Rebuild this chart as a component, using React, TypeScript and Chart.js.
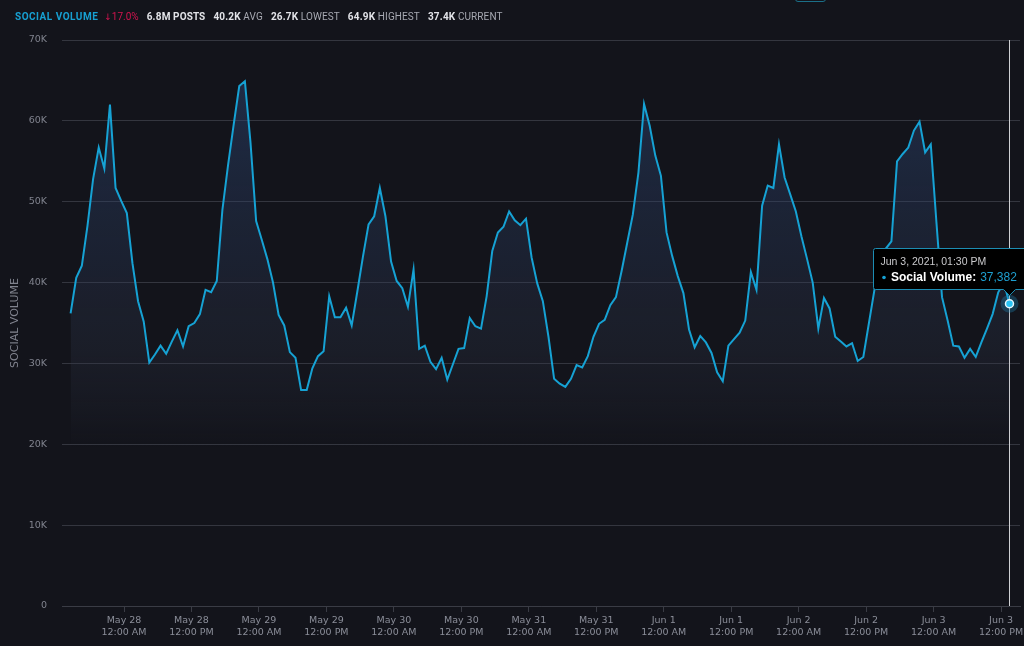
import React, { useEffect, useRef } from "react";
import { Chart, registerables } from "chart.js";

Chart.register(...registerables);

// Hourly samples; first sample is May 27, 2021 02:30 PM (hours relative to May 28 12:00 AM)
const START_HOUR = -9.5;
const SOCIAL_VOLUME = [
  36200, 40600, 42100, 47000, 52800, 56700, 54100, 62000, 51700, 50100,
  48600, 42400, 37700, 35200, 30100, 31100, 32200, 31200, 32700, 34100,
  32100, 34600, 35000, 36100, 39100, 38800, 40200, 49000, 54500, 59500,
  64300, 64900, 57300, 47600, 45300, 42900, 40000, 36000, 34700, 31400,
  30700, 26700, 26700, 29400, 30900, 31500, 38300, 35700, 35700, 36900,
  34700, 38900, 43200, 47200, 48200, 51700, 48200, 42600, 40200, 39300,
  37000, 41600, 31800, 32200, 30200, 29300, 30700, 28000, 29900, 31800,
  31900, 35600, 34600, 34300, 38300, 43900, 46200, 46900, 48800, 47700,
  47100, 47900, 43100, 39900, 37700, 33300, 28100, 27500, 27100, 28100,
  29800, 29500, 30900, 33300, 34900, 35400, 37200, 38200, 41400, 44900,
  48400, 53600, 62100, 59400, 55700, 53200, 46200, 43300, 40800, 38700,
  34200, 32000, 33400, 32600, 31300, 28900, 27800, 32200, 33000, 33800,
  35300, 41300, 39100, 49500, 52000, 51700, 57100, 53000, 50900, 48800,
  45700, 42900, 40000, 34300, 38100, 36800, 33300, 32700, 32100, 32500,
  30300, 30800, 35000, 39200, 43000, 44200, 45100, 55000, 55900, 56700,
  58800, 59900, 56100, 57100, 47500, 38200, 35300, 32200, 32100, 30700,
  31800, 30800, 32600, 34300, 36100, 38800, 40000, 37382,
];

const TICK_HOURS = [0, 12, 24, 36, 48, 60, 72, 84, 96, 108, 120, 132, 144, 156];
const TICK_DATES = [
  "May 28", "May 28", "May 29", "May 29", "May 30", "May 30", "May 31",
  "May 31", "Jun 1", "Jun 1", "Jun 2", "Jun 2", "Jun 3", "Jun 3",
];
const TICK_TIMES = [
  "12:00 AM", "12:00 PM", "12:00 AM", "12:00 PM", "12:00 AM", "12:00 PM", "12:00 AM",
  "12:00 PM", "12:00 AM", "12:00 PM", "12:00 AM", "12:00 PM", "12:00 AM", "12:00 PM",
];

const Y_TICKS = [0, 10000, 20000, 30000, 40000, 50000, 60000, 70000];

const HEADER_TITLE = "SOCIAL VOLUME";
const HEADER_ARROW = "↓";
const HEADER_CHANGE = "17.0%";
const HEADER_VALUES = ["6.8M", "40.2K", "26.7K", "64.9K", "37.4K"];
const HEADER_LABELS = ["POSTS", "AVG", "LOWEST", "HIGHEST", "CURRENT"];

const TOOLTIP_TITLE = "Jun 3, 2021, 01:30 PM";
const SERIES_NAME = "Social Volume";

const BG = "#13141b";
const LINE = "#16a2d4";

export default function App() {
  const canvasRef = useRef<HTMLCanvasElement | null>(null);

  useEffect(() => {
    document.body.style.margin = "0";
    document.body.style.background = BG;
    const canvas = canvasRef.current;
    if (!canvas) return;
    const last = SOCIAL_VOLUME.length - 1;

    const overlay = {
      id: "overlay",
      beforeDatasetsDraw(chart: any) {
        const pt = chart.getDatasetMeta(0).data[last];
        const { ctx, chartArea } = chart;
        ctx.save();
        const x = Math.round(pt.x) + 0.5;
        ctx.strokeStyle = "#cfd0d4";
        ctx.lineWidth = 1;
        ctx.beginPath();
        ctx.moveTo(x, chartArea.top);
        ctx.lineTo(x, chartArea.bottom);
        ctx.stroke();
        ctx.restore();
      },
      afterDatasetsDraw(chart: any) {
        const pt = chart.getDatasetMeta(0).data[last];
        const { ctx } = chart;
        ctx.save();
        ctx.fillStyle = "rgba(30,140,190,0.32)";
        ctx.beginPath();
        ctx.arc(pt.x, pt.y, 9, 0, Math.PI * 2);
        ctx.fill();
        ctx.fillStyle = "#29c3f5";
        ctx.strokeStyle = "#e8f6fb";
        ctx.lineWidth = 1.5;
        ctx.beginPath();
        ctx.arc(pt.x, pt.y, 4, 0, Math.PI * 2);
        ctx.fill();
        ctx.stroke();
        ctx.restore();
      },
      afterDraw(chart: any) {
        const pt = chart.getDatasetMeta(0).data[last];
        const { ctx } = chart;
        const left = 873.5;
        const top = 248.5;
        const bottom = 289.5;
        const right = 1034;
        const cx = Math.round(pt.x) + 0.5;
        ctx.save();
        ctx.fillStyle = "#000000";
        ctx.strokeStyle = "#1c8db3";
        ctx.lineWidth = 1;
        ctx.beginPath();
        ctx.moveTo(left + 2, top);
        ctx.lineTo(right, top);
        ctx.lineTo(right, bottom);
        ctx.lineTo(cx + 6, bottom);
        ctx.lineTo(cx, bottom + 6);
        ctx.lineTo(cx - 6, bottom);
        ctx.lineTo(left + 2, bottom);
        ctx.quadraticCurveTo(left, bottom, left, bottom - 2);
        ctx.lineTo(left, top + 2);
        ctx.quadraticCurveTo(left, top, left + 2, top);
        ctx.closePath();
        ctx.fill();
        ctx.stroke();

        ctx.textBaseline = "middle";
        ctx.textAlign = "left";
        ctx.font = "10.5px 'Liberation Sans', Arial, sans-serif";
        ctx.fillStyle = "#c9c9cc";
        ctx.fillText(TOOLTIP_TITLE, 880.5, 262);

        ctx.fillStyle = LINE;
        ctx.beginPath();
        ctx.arc(884, 277.5, 1.8, 0, Math.PI * 2);
        ctx.fill();

        ctx.font = "bold 12px 'Liberation Sans', Arial, sans-serif";
        ctx.fillStyle = "#ffffff";
        const label = SERIES_NAME + ":";
        ctx.fillText(label, 891, 277.5);
        const w = ctx.measureText(label).width;
        ctx.font = "12px 'Liberation Sans', Arial, sans-serif";
        ctx.fillStyle = "#1e9fd0";
        ctx.fillText(SOCIAL_VOLUME[last].toLocaleString("en-US"), 891 + w + 4, 277.5);
        ctx.restore();
      },
    };

    const chart = new Chart(canvas, {
      type: "line",
      data: {
        datasets: [
          {
            label: SERIES_NAME,
            data: SOCIAL_VOLUME.map((v, i) => ({ x: START_HOUR + i, y: v })),
            borderColor: LINE,
            borderWidth: 2,
            pointRadius: 0,
            pointHoverRadius: 0,
            tension: 0,
            fill: "origin",
            backgroundColor: (c: any) => {
              const { chart: ch } = c;
              const area = ch.chartArea;
              if (!area) return "rgba(0,0,0,0)";
              const g = ch.ctx.createLinearGradient(0, area.top, 0, area.bottom);
              g.addColorStop(0, "rgba(45,75,125,0.5)");
              g.addColorStop(0.3, "rgba(45,65,105,0.35)");
              g.addColorStop(0.55, "rgba(48,55,75,0.28)");
              g.addColorStop(0.66, "rgba(48,55,75,0.12)");
              g.addColorStop(0.72, "rgba(48,55,75,0)");
              return g;
            },
          },
        ],
      },
      options: {
        animation: false,
        responsive: false,
        devicePixelRatio: 1,
        events: [],
        layout: { padding: { top: 40, right: 4, left: 0, bottom: 0 } },
        plugins: {
          legend: { display: false },
          tooltip: { enabled: false },
        },
        scales: {
          x: {
            type: "linear",
            min: -11.03,
            max: 159.37,
            afterBuildTicks: (scale: any) => {
              scale.ticks = TICK_HOURS.map((v) => ({ value: v }));
            },
            afterFit: (scale: any) => {
              scale.height = 40;
              scale.paddingLeft = 0;
              scale.paddingRight = 0;
            },
            grid: {
              drawOnChartArea: false,
              drawTicks: true,
              tickLength: 6,
              color: "#3a3c45",
            },
            border: { display: true, color: "#3a3c45" },
            ticks: {
              autoSkip: false,
              maxRotation: 0,
              padding: 2,
              color: "#8b8e99",
              font: { family: "'DejaVu Sans', sans-serif", size: 9.5, lineHeight: 1.3 },
              callback: (value: any) => {
                const i = TICK_HOURS.indexOf(Number(value));
                return i >= 0 ? [TICK_DATES[i], TICK_TIMES[i]] : "";
              },
            },
          },
          y: {
            min: 0,
            max: 70000,
            afterBuildTicks: (scale: any) => {
              scale.ticks = Y_TICKS.map((v) => ({ value: v }));
            },
            afterFit: (scale: any) => {
              scale.width = 62;
              scale.paddingTop = 0;
              scale.paddingBottom = 0;
            },
            grid: { color: "#34363f", drawTicks: false, lineWidth: 1 },
            border: { display: false },
            ticks: {
              padding: 15,
              color: "#80838e",
              font: { family: "'DejaVu Sans', sans-serif", size: 9.5 },
              callback: (v: any) => (Number(v) === 0 ? "0" : Number(v) / 1000 + "K"),
            },
            title: {
              display: true,
              text: "SOCIAL VOLUME",
              color: "#80838e",
              font: { family: "'DejaVu Sans', sans-serif", size: 11 },
              padding: { top: 9, bottom: 0 },
            },
          },
        },
      },
      plugins: [overlay],
    } as any);

    return () => chart.destroy();
  }, []);

  const headerFont: React.CSSProperties = {
    fontFamily: "Roboto, 'Noto Sans', sans-serif",
    fontSize: 10,
    lineHeight: "14px",
    whiteSpace: "nowrap",
  };

  return (
    <div style={{ position: "relative", width: 1024, height: 646, background: BG, overflow: "hidden" }}>
      <canvas
        ref={canvasRef}
        width={1024}
        height={646}
        style={{ position: "absolute", left: 0, top: 0, width: 1024, height: 646 }}
      />
      <div
        style={{
          position: "absolute",
          left: 795,
          top: -10,
          width: 29,
          height: 10,
          border: "1px solid #1b6f88",
          borderRadius: 3,
        }}
      />
      <div
        style={{
          position: "absolute",
          left: 15,
          top: 10,
          display: "flex",
          gap: 8,
          alignItems: "center",
          ...headerFont,
        }}
      >
        <span style={{ color: "#17a0d2", fontWeight: 700, letterSpacing: 0.5, marginRight: -2 }}>{HEADER_TITLE}</span>
        <span style={{ color: "#d3144f", fontWeight: 400 }}>
          <span style={{ fontFamily: "'DejaVu Sans', sans-serif", fontSize: 9 }}>{HEADER_ARROW}</span>
          {HEADER_CHANGE}
        </span>
        {HEADER_VALUES.map((v, i) => (
          <span key={i}>
            <span style={{ color: "#e2e3e8", fontWeight: 700, letterSpacing: 0.2 }}>{v}</span>{" "}
            <span
              style={{
                color: i === 0 ? "#e2e3e8" : "#a7a9b2",
                fontWeight: i === 0 ? 700 : 400,
                letterSpacing: 0.1,
              }}
            >
              {HEADER_LABELS[i]}
            </span>
          </span>
        ))}
      </div>
    </div>
  );
}
